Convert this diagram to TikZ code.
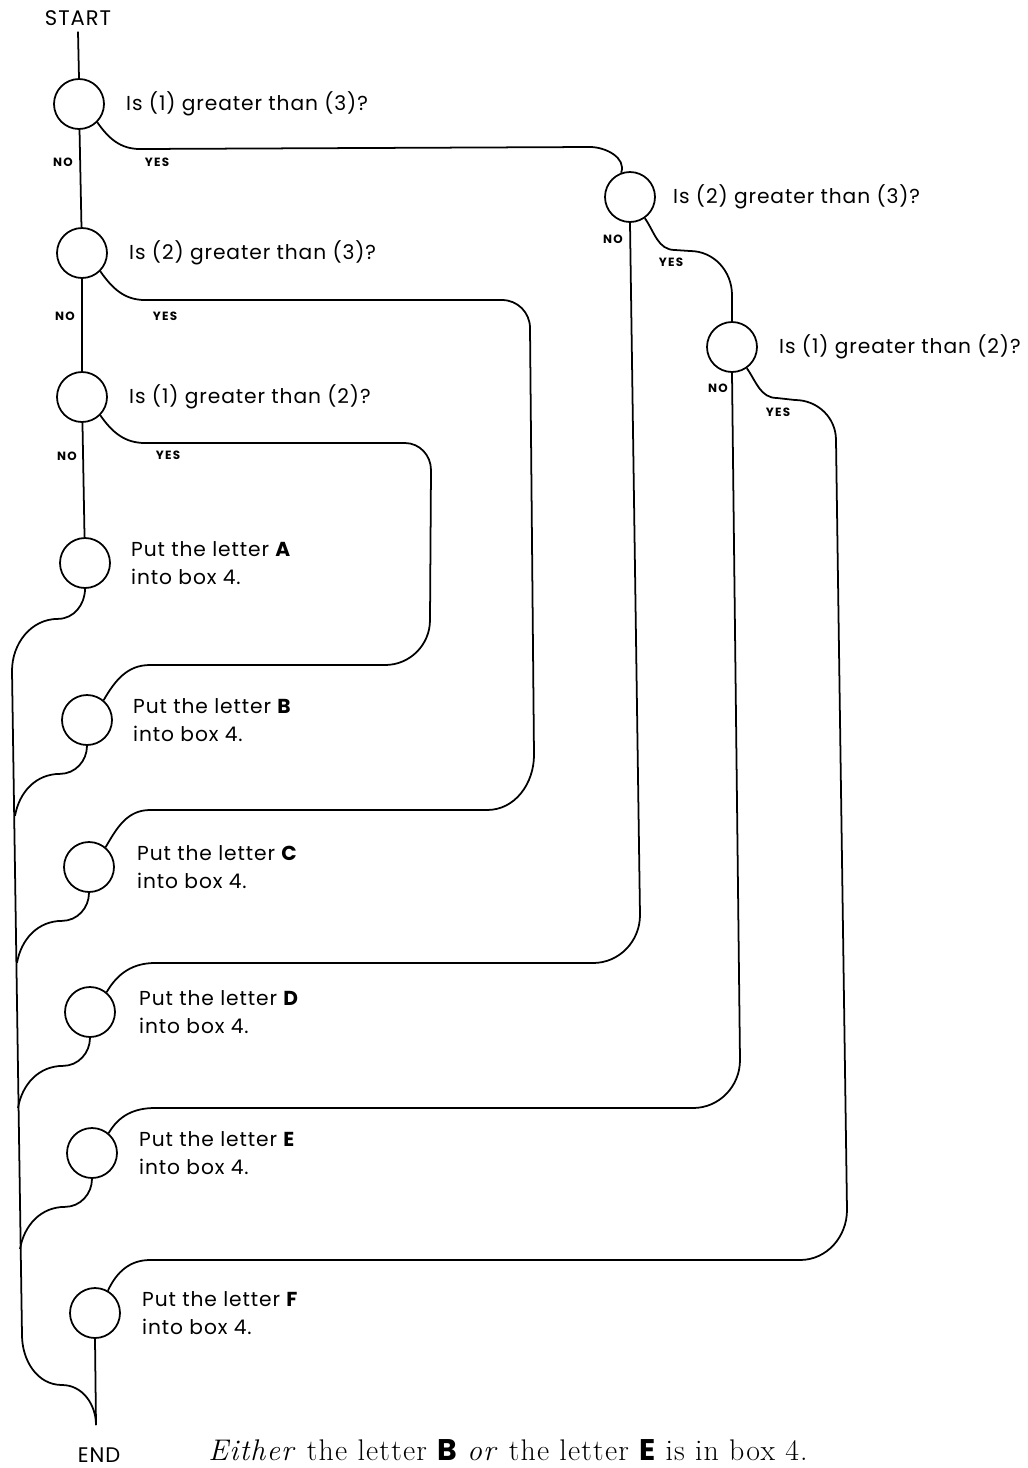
\documentclass[tikz,border=0pt]{standalone}
\usepackage{fontspec}
\newfontfamily\geofont[LetterSpace=4.5]{Poppins}
\newfontfamily\lblfont[LetterSpace=10]{Poppins}
\newfontfamily\bookfont[LetterSpace=4]{Latin Modern Roman}
\usetikzlibrary{positioning}

\tikzset{
  gate/.style={circle, draw, line width=1pt, minimum size=1cm, inner sep=0pt},
  says/.style={font=\geofont\fontsize{11.5}{16}\selectfont, align=left, inner sep=0pt},
  branch/.style={font=\lblfont\bfseries\fontsize{6.8}{7}\selectfont, inner sep=0pt},
  flow/.style={line width=1pt},
}

\begin{document}
\begin{tikzpicture}[x=0.02cm, y=0.02cm]
  % page frame, in pixels of the 1028 x 1468 sheet
  \useasboundingbox (0,0) rectangle (1028,-1468);
  % questions down the left
  \node[font=\geofont\fontsize{12}{14}\selectfont] (start) at (78,-18) {START};
  \node[gate] (q1) at (79,-104) {};
  \node[gate] (q2) at (82,-253) {};
  \node[gate] (q3) at (82,-397) {};
  % questions on the right
  \node[gate] (r1) at (630,-197) {};
  \node[gate] (r2) at (732,-347) {};
  % answers
  \node[gate] (pa) at (85,-563) {};
  \node[gate] (pb) at (87,-720) {};
  \node[gate] (pc) at (89,-867) {};
  \node[gate] (pd) at (90,-1012) {};
  \node[gate] (pe) at (92,-1153) {};
  \node[gate] (pf) at (95,-1313) {};
  \coordinate (tail) at (96,-1425);
  \node[font=\geofont\fontsize{12}{14}\selectfont] (end) at (99,-1455) {END};

  % texts beside the circles
  \node[says, right=0.42cm of q1] (t1) {Is (1) greater than (3)?};
  \node[says, right=0.42cm of q2] (t2) {Is (2) greater than (3)?};
  \node[says, right=0.42cm of q3] (t3) {Is (1) greater than (2)?};
  \node[says, right=0.34cm of r1] (t4) {Is (2) greater than (3)?};
  \node[says, right=0.42cm of r2] (t5) {Is (1) greater than (2)?};
  \node[says, right=0.4cm of pa] (ta) {Put the letter {\bfseries A}\\into box 4.};
  \node[says, right=0.4cm of pb] (tb) {Put the letter {\bfseries B}\\into box 4.};
  \node[says, right=0.44cm of pc] (tc) {Put the letter {\bfseries C}\\into box 4.};
  \node[says, right=0.46cm of pd] (td) {Put the letter {\bfseries D}\\into box 4.};
  \node[says, right=0.42cm of pe] (te) {Put the letter {\bfseries E}\\into box 4.};
  \node[says, right=0.42cm of pf] (tf) {Put the letter {\bfseries F}\\into box 4.};

  % NO / YES labels
  \node[branch] (n1) at (63,-162) {NO};
  \node[branch] (n2) at (65,-316) {NO};
  \node[branch] (n3) at (67,-456) {NO};
  \node[branch] (n4) at (613,-239) {NO};
  \node[branch] (n5) at (718,-388) {NO};
  \node[branch] (y1) at (157,-162) {YES};
  \node[branch] (y2) at (165,-316) {YES};
  \node[branch] (y3) at (168,-455) {YES};
  \node[branch] (y4) at (671,-262) {YES};
  \node[branch] (y5) at (778,-412) {YES};

  % straight NO path
  \draw[flow] (start.south) -- (q1.north);
  \draw[flow] (q1) -- (q2);
  \draw[flow] (q2) -- (q3);
  \draw[flow] (q3) -- (pa);

  % YES from q1 over to r1, and r1 to r2
  \draw[flow] (q1.-45) to[out=-55,in=180] (140,-149) -- (590,-147)
    to[out=0,in=70] (r1.110);
  \draw[flow] (r1.-55) to[out=-55,in=180] (675,-250) -- (690,-251)
    to[out=0,in=90] (732,-295) -- (r2.north);

  % long loops back to the answers
  \draw[flow] (q3.-45) to[out=-55,in=180] (145,-443) -- (405,-443)
    to[out=0,in=90] (431,-470) -- (430,-620) to[out=-90,in=0] (385,-665)
    -- (150,-665) to[out=180,in=60] (pb.50);
  \draw[flow] (q2.-45) to[out=-55,in=180] (145,-300) -- (502,-300)
    to[out=0,in=90] (530,-328) -- (534,-755) to[out=-90,in=0] (487,-810)
    -- (150,-810) to[out=180,in=60] (pc.50);
  \draw[flow] (r1.south) -- (640,-915) to[out=-90,in=0] (593,-963)
    -- (155,-963) to[out=180,in=60] (pd.50);
  \draw[flow] (r2.south) -- (740,-1060) to[out=-90,in=0] (693,-1108)
    -- (155,-1108) to[out=180,in=60] (pe.50);
  \draw[flow] (r2.-55) to[out=-55,in=180] (777,-398) -- (795,-400)
    to[out=0,in=90] (836,-440) -- (847,-1210) to[out=-90,in=0] (800,-1260)
    -- (150,-1260) to[out=180,in=65] (pf.60);

  % return line on the far left down to END
  \draw[flow] (pa.south) to[out=-90,in=0] ++(-27,-30) to[out=180,in=90] ++(-46,-52)
    -- (22,-1335) to[out=-90,in=180] (62,-1385) to[out=0,in=90] (tail);
  \foreach \n in {pb,pc,pd,pe}
    \draw[flow] (\n.south) to[out=-90,in=0] ++(-27,-28) to[out=180,in=80] ++(-45,-42);
  \draw[flow] (pf.south) -- (tail);

  % closing sentence
  \node[anchor=base west, inner sep=0pt, font=\bookfont\fontsize{17}{19}\selectfont] (verdict) at (208,-1460)
    {\textit{Either} the letter {\geofont\bfseries B} \textit{or} the letter {\geofont\bfseries E} is in box 4.};
\end{tikzpicture}
\end{document}
